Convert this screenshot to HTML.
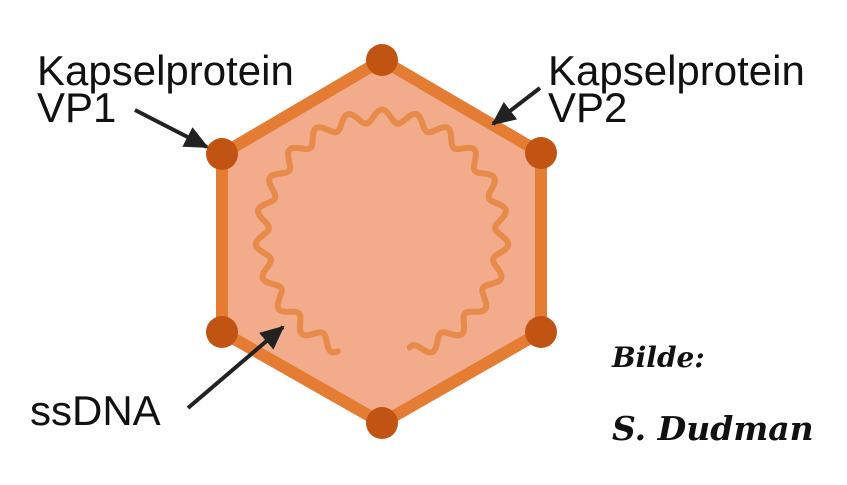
<!DOCTYPE html>
<html><head><meta charset="utf-8"><style>
html,body{margin:0;padding:0;background:#fff;}
svg{display:block;}
text{font-family:"Liberation Sans",sans-serif;fill:#111;}
.s{font-family:"DejaVu Serif","Liberation Serif",serif;font-style:italic;font-weight:bold;}
</style></head><body>
<svg width="847" height="485" viewBox="0 0 847 485" xmlns="http://www.w3.org/2000/svg">
<defs>
<marker id="h" markerWidth="24" markerHeight="22" refX="22" refY="11" orient="auto" markerUnits="userSpaceOnUse"><path d="M0,0 L24,11 L0,22 Z" fill="#222"/></marker></defs>
<polygon points="382,60 541,153 541,332 382,423 222,332 222,154" fill="#f2ab8b" stroke="#e47d33" stroke-width="12" stroke-linejoin="round"/>
<path id="w" d="" fill="none" stroke="#e88a4a" stroke-width="6" stroke-linecap="round"/>
<g fill="#c15412">
<circle cx="382" cy="60" r="16"/><circle cx="541" cy="153" r="16"/><circle cx="541" cy="332" r="16"/>
<circle cx="382" cy="423" r="16"/><circle cx="222" cy="332" r="16"/><circle cx="222" cy="154" r="16"/>
</g>
<line x1="135" y1="110" x2="207" y2="147" stroke="#222" stroke-width="4" marker-end="url(#h)"/>
<line x1="540" y1="88" x2="493" y2="124" stroke="#222" stroke-width="4" marker-end="url(#h)"/>
<line x1="188" y1="408" x2="283" y2="327" stroke="#222" stroke-width="4" marker-end="url(#h)"/>
<text x="37" y="85" font-size="42">Kapselprotein</text>
<text x="37" y="122" font-size="42">VP1</text>
<text x="548" y="85" font-size="42">Kapselprotein</text>
<text x="548" y="122" font-size="42">VP2</text>
<text x="30" y="425" font-size="42">ssDNA</text>
<text class="s" x="612" y="367" font-size="28">Bilde:</text>
<text class="s" x="612" y="440" font-size="33">S. Dudman</text>
</svg>
<script>
(function(){var cx=382,cy=236,r=120,A=6.5,N=23,a0=111,a1=436,d="";
for(var i=0;i<=600;i++){var t=a0+(a1-a0)*i/600,rad=t*Math.PI/180,rr=r+A*Math.sin(rad*N);
var x=cx+rr*Math.cos(rad),y=cy+rr*Math.sin(rad);d+=(i?"L":"M")+x.toFixed(1)+","+y.toFixed(1);}
document.getElementById("w").setAttribute("d",d);})();
</script>
</body></html>
